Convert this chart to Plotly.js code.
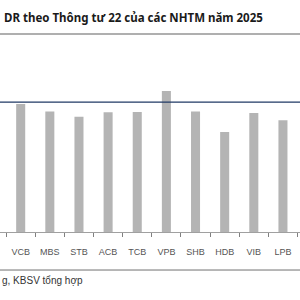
<!DOCTYPE html>
<html>
<head>
<meta charset="utf-8">
<script src="https://cdn.plot.ly/plotly-3.0.1.min.js"></script>
<style>html,body{margin:0;padding:0;background:#fff;}#chart{width:300px;height:300px;}</style>
</head>
<body>
<div id="chart"></div>
<script>
const categories = ["VCB", "MBS", "STB", "ACB", "TCB", "VPB", "SHB", "HDB", "VIB", "LPB"];
const drValues = [83.7, 78.9, 75.4, 78.3, 78.5, 92.2, 78.9, 65.4, 77.8, 73.1];
const threshold = 85;
const titleText = "DR theo Thông tư 22 của các NHTM năm 2025";
const sourceText = "g, KBSV tổng hợp";

const data = [{
  type: "bar",
  x: categories,
  y: drValues,
  marker: {color: "#b4b4b4"},
  hoverinfo: "skip"
}];

const layout = {
  width: 300, height: 300,
  margin: {l: 0, r: 0, t: 40, b: 68, pad: 0},
  paper_bgcolor: "#ffffff",
  plot_bgcolor: "#ffffff",
  showlegend: false,
  bargap: 0.69,
  xaxis: {
    type: "category",
    range: [-0.71, 9.585],
    tickson: "boundaries",
    ticks: "outside",
    ticklen: 4,
    tickcolor: "#808080",
    ticklabelstandoff: 11,
    showline: true,
    linecolor: "#a0a0a0",
    linewidth: 1,
    showgrid: false,
    zeroline: false,
    tickfont: {family: "Liberation Sans Narrow, Arial Narrow, Liberation Sans, sans-serif", size: 9, color: "#555555"},
    fixedrange: true
  },
  yaxis: {
    range: [0, 125.6],
    visible: false,
    showgrid: false,
    zeroline: false,
    fixedrange: true
  },
  shapes: [
    {type: "line", xref: "paper", yref: "paper", x0: 0, x1: 1, y0: 1.03125, y1: 1.03125,
     line: {color: "#606060", width: 1.2}},
    {type: "line", xref: "paper", yref: "y", x0: 0, x1: 1, y0: threshold, y1: threshold,
     line: {color: "#1f3864", width: 1.3}},
    {type: "line", xref: "paper", yref: "paper", x0: 0, x1: 1, y0: -0.198, y1: -0.198,
     line: {color: "#707070", width: 1}}
  ],
  annotations: [
    {text: "<b>" + titleText + "</b>", xref: "paper", yref: "paper", x: 0.005, y: 1.115,
     xanchor: "left", yanchor: "middle", showarrow: false,
     font: {family: "Noto Sans, sans-serif", size: 11.5, color: "#1a1a1a"}},
    {text: sourceText, xref: "paper", yref: "paper", x: 0, y: -0.255,
     xanchor: "left", yanchor: "middle", showarrow: false,
     font: {family: "Liberation Sans Narrow, Arial Narrow, sans-serif", size: 10, color: "#333333"}}
  ]
};

Plotly.newPlot("chart", data, layout, {displayModeBar: false, staticPlot: true});
</script>
</body>
</html>
